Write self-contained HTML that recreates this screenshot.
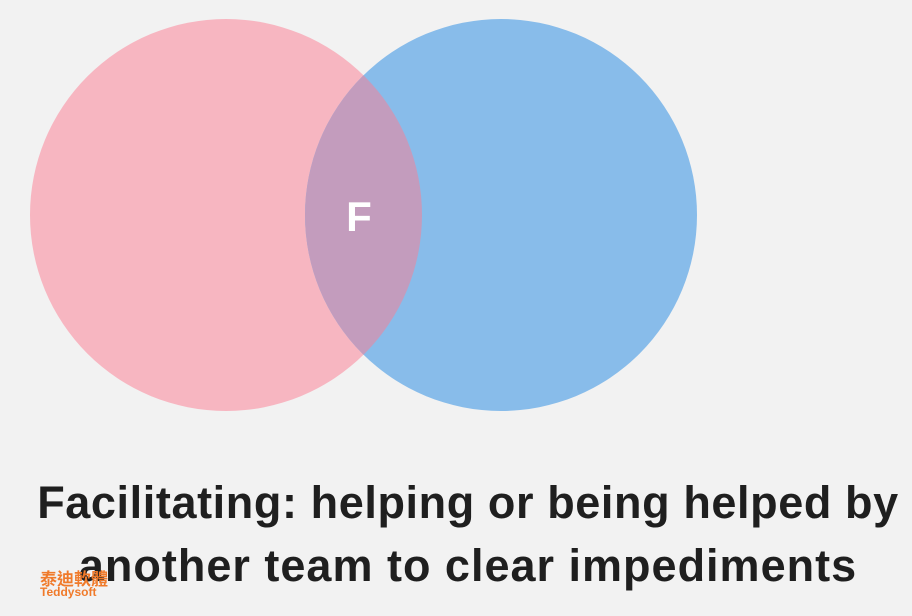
<!DOCTYPE html>
<html><head><meta charset="utf-8"><style>
html,body{margin:0;padding:0;}
body{width:912px;height:616px;background:#f2f2f2;position:relative;overflow:hidden;font-family:"Liberation Sans","DejaVu Sans",sans-serif;}
.t{position:absolute;left:12px;width:912px;text-align:center;font-weight:bold;color:#1f1f1f;font-size:45px;letter-spacing:0.6px;white-space:nowrap;}
.logo{position:absolute;left:40px;color:#f07a2a;font-weight:bold;}
</style></head><body>
<svg width="912" height="616" style="position:absolute;left:0;top:0">
<defs><clipPath id="c"><circle cx="226" cy="215" r="196"/></clipPath></defs>
<circle cx="226" cy="215" r="196" fill="#f7b6c1"/>
<circle cx="501" cy="215" r="196" fill="#88bcea"/>
<circle cx="501" cy="215" r="196" fill="#c39cbd" clip-path="url(#c)"/>
<text x="359" y="231" font-family="Liberation Sans, sans-serif" font-weight="bold" font-size="42" fill="#ffffff" text-anchor="middle">F</text>
</svg>
<div class="t" style="top:477px">Facilitating: helping or being helped by</div>
<div class="t" style="top:540px;letter-spacing:1px">another team to clear impediments</div>
<div class="logo" style="top:565px;font-size:17px;font-family:'Liberation Sans','Noto Sans CJK TC',sans-serif;">泰迪軟體</div>
<div class="logo" style="top:585px;font-size:12px;">Teddysoft</div>
</body></html>
